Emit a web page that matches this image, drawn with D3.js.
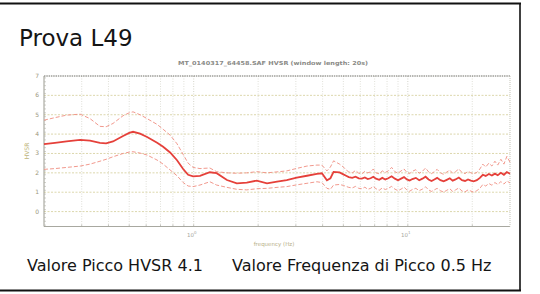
<!DOCTYPE html>
<html>
<head>
<meta charset="utf-8">
<script src="https://cdn.jsdelivr.net/npm/d3@7"></script>
<style>
  body { margin: 0; background: #fff; }
  text { font-family: "DejaVu Sans", Verdana, sans-serif; }
</style>
</head>
<body>
<div id="chart"></div>
<script>

// frequency samples (Hz)
var freqs = [0.2, 0.225, 0.255, 0.295, 0.328, 0.365, 0.39, 0.42, 0.468, 0.5, 0.521, 0.562, 0.606, 0.675, 0.72, 0.776,
    0.836, 0.893, 0.942, 0.994, 1.07, 1.19, 1.28, 1.43, 1.59, 1.77, 1.97, 2.2, 2.45, 2.72, 3.03, 3.38, 3.76, 3.97, 4.19, 4.35, 4.5,
    4.8, 5.0, 5.15, 5.3, 5.5, 5.7, 5.9, 6.1, 6.3, 6.5, 6.7, 6.9, 7.1, 7.35, 7.6, 7.85, 8.1, 8.4, 8.7, 9.0, 9.3, 9.6, 9.9,
    10.2, 10.5, 10.9, 11.3, 11.7, 12.1, 12.5, 12.9, 13.3, 13.7, 14.2, 14.7, 15.2, 15.7, 16.2, 16.7, 17.3, 17.9, 18.5, 19.1,
    19.7, 20.3, 21.0, 21.7, 22.4, 23.1, 23.9, 24.7, 25.5, 26.3, 27.2, 28.1, 29.0, 30.0]

// mean HVSR curve
var hvsrMean = [3.48, 3.55, 3.63, 3.70, 3.66, 3.55, 3.52, 3.62, 3.90, 4.06, 4.12, 4.02, 3.85, 3.55, 3.35, 3.05,
    2.65, 2.2, 1.9, 1.82, 1.84, 2.03, 1.98, 1.63, 1.46, 1.49, 1.6, 1.46, 1.55, 1.63, 1.75, 1.85, 1.95, 1.98, 1.62, 1.72, 2.05,
    2.02, 1.92, 1.85, 1.78, 1.74, 1.8, 1.72, 1.70, 1.76, 1.68, 1.72, 1.8, 1.7, 1.64, 1.74, 1.66, 1.72, 1.82, 1.7, 1.62, 1.7, 1.78, 1.66,
    1.6, 1.68, 1.74, 1.62, 1.7, 1.8, 1.66, 1.58, 1.66, 1.74, 1.62, 1.56, 1.64, 1.72, 1.6, 1.66, 1.76, 1.62, 1.58, 1.66,
    1.6, 1.56, 1.62, 1.74, 1.9, 1.84, 1.94, 1.86, 1.96, 1.88, 2.0, 1.9, 2.04, 1.95]

// mean + std
var hvsrUpper = [4.72, 4.85, 4.98, 5.03, 4.80, 4.40, 4.38, 4.55, 4.95, 5.10, 5.15, 5.00, 4.80, 4.50, 4.25, 3.95,
    3.50, 2.95, 2.50, 2.28, 2.22, 2.25, 2.06, 2.0, 1.98, 2.0, 2.06, 2.0, 2.05, 2.1, 2.23, 2.35, 2.4, 2.4, 2.1, 2.3, 2.62,
    2.45, 2.3, 2.15, 2.05, 2.0, 2.12, 1.98, 1.95, 2.08, 2.0, 2.05, 2.2, 2.0, 1.95, 2.1, 2.02, 2.1, 2.28, 2.06, 1.98, 2.1, 2.2, 2.02,
    1.96, 2.08, 2.16, 1.98, 2.08, 2.25, 2.05, 1.96, 2.06, 2.18, 2.0, 1.92, 2.04, 2.14, 1.98, 2.06, 2.2, 2.02, 1.96, 2.08,
    2.0, 1.95, 2.02, 2.2, 2.45, 2.3, 2.5, 2.35, 2.6, 2.4, 2.7, 2.45, 2.85, 2.55]

// mean - std
var hvsrLower = [2.18, 2.22, 2.28, 2.35, 2.45, 2.6, 2.7, 2.83, 3.0, 3.07, 3.09, 3.02, 2.92, 2.66, 2.45, 2.15,
    1.85, 1.5, 1.32, 1.29, 1.37, 1.54, 1.37, 1.25, 1.15, 1.12, 1.18, 1.2, 1.25, 1.29, 1.38, 1.46, 1.54, 1.5, 1.2, 1.15, 1.37,
    1.4, 1.35, 1.3, 1.25, 1.22, 1.3, 1.2, 1.18, 1.26, 1.15, 1.2, 1.3, 1.18, 1.1, 1.22, 1.14, 1.2, 1.3, 1.16, 1.08, 1.16, 1.26, 1.12,
    1.05, 1.14, 1.2, 1.08, 1.16, 1.28, 1.12, 1.04, 1.12, 1.2, 1.08, 1.0, 1.1, 1.18, 1.04, 1.12, 1.22, 1.06, 1.02, 1.12,
    1.06, 1.0, 1.08, 1.2, 1.4, 1.32, 1.45, 1.36, 1.5, 1.4, 1.55, 1.42, 1.58, 1.48]

var yTicks = [0, 1, 2, 3, 4, 5, 6, 7]
var xMajor = [1, 10]
var xGrid = [0.3, 0.4, 0.5, 0.6, 0.7, 0.8, 0.9, 1, 2, 3, 4, 5, 6, 7, 8, 9, 10, 20]

var chartTitle = "MT_0140317_64458.SAF   HVSR (window length: 20s)"
var boxTitle = "Prova L49"
var peakText = "Valore Picco HVSR 4.1"
var freqText = "Valore Frequenza di Picco 0.5 Hz"

var width = 540
var height = 294
var plot = {left: 44, right: 510, top: 76, bottom: 226.5}

var svg = d3.select("#chart")
    .append("svg")
    .attr("width", width)
    .attr("height", height)

// outer frame of the box
svg.append("line").attr("x1", 0).attr("x2", 521).attr("y1", 3.5).attr("y2", 3.5)
    .attr("stroke", "#111").attr("stroke-width", 2)
svg.append("line").attr("x1", 520).attr("x2", 520).attr("y1", 3).attr("y2", 291)
    .attr("stroke", "#111").attr("stroke-width", 1.6)
svg.append("line").attr("x1", 0).attr("x2", 521).attr("y1", 290.5).attr("y2", 290.5)
    .attr("stroke", "#111").attr("stroke-width", 2.2)

svg.append("text")
    .attr("x", 19).attr("y", 46)
    .style("font-size", "23px")
    .attr("fill", "#151515")
    .text(boxTitle)

var x = d3.scaleLog().domain([0.2, 30]).range([plot.left, plot.right])
var y = d3.scaleLinear().domain([-0.77, 7]).range([plot.bottom, plot.top])

var g = svg.append("g")

// grid
g.selectAll(".hgrid")
    .data(yTicks.slice(0, 7))
    .enter().append("line")
    .attr("x1", plot.left).attr("x2", plot.right)
    .attr("y1", d => y(d)).attr("y2", d => y(d))
    .attr("stroke", "#d8d2a4")
    .attr("stroke-width", 0.9)
    .attr("stroke-dasharray", "2,1.5")

g.selectAll(".vgrid")
    .data(xGrid)
    .enter().append("line")
    .attr("x1", d => x(d)).attr("x2", d => x(d))
    .attr("y1", plot.top).attr("y2", plot.bottom)
    .attr("stroke", d => xMajor.indexOf(d) >= 0 ? "#cfcfc4" : "#dcdcd4")
    .attr("stroke-width", 0.9)
    .attr("stroke-dasharray", "1,1.5")

// axes box
g.append("line").attr("x1", plot.left).attr("x2", plot.right).attr("y1", plot.top).attr("y2", plot.top)
    .attr("stroke", "#6e6e66").attr("stroke-width", 1).attr("stroke-dasharray", "1.5,0.8")
g.append("line").attr("x1", plot.left).attr("x2", plot.right).attr("y1", plot.bottom).attr("y2", plot.bottom)
    .attr("stroke", "#a8a8a0").attr("stroke-width", 1)
g.append("line").attr("x1", plot.left).attr("x2", plot.left).attr("y1", plot.top).attr("y2", plot.bottom)
    .attr("stroke", "#9a9a90").attr("stroke-width", 1)
g.append("line").attr("x1", plot.right).attr("x2", plot.right).attr("y1", plot.top).attr("y2", plot.bottom)
    .attr("stroke", "#c4c4b8").attr("stroke-width", 1).attr("stroke-dasharray", "1,1")

// minor ticks along the left axis
g.selectAll(".yminor")
    .data(d3.range(-7, 70, 2).map(d => d / 10))
    .enter().append("line")
    .attr("x1", plot.left).attr("x2", plot.left + 2)
    .attr("y1", d => y(d)).attr("y2", d => y(d))
    .attr("stroke", "#b0b0a6").attr("stroke-width", 0.6)

// bottom ticks
g.selectAll(".xtick")
    .data(xGrid)
    .enter().append("line")
    .attr("x1", d => x(d)).attr("x2", d => x(d))
    .attr("y1", plot.bottom).attr("y2", plot.bottom - 2)
    .attr("stroke", "#a8a8a0").attr("stroke-width", 0.7)

// tick labels
g.selectAll(".ylab")
    .data(yTicks)
    .enter().append("text")
    .attr("x", plot.left - 5)
    .attr("y", d => y(d) + 2)
    .attr("text-anchor", "end")
    .style("font-size", "6px")
    .attr("fill", "#9c967c")
    .text(d => d)

var xl = g.selectAll(".xlab")
    .data(xMajor)
    .enter().append("text")
    .attr("x", d => x(d) - 2)
    .attr("y", plot.bottom + 10)
    .attr("text-anchor", "middle")
    .style("font-size", "5.5px")
    .attr("fill", "#a8a8a0")
xl.append("tspan").text("10")
xl.append("tspan").attr("dy", -2.5).style("font-size", "4px").text(d => Math.log10(d))

// chart title and axis titles
svg.append("text")
    .attr("x", 178).attr("y", 65)
    .attr("textLength", 190)
    .attr("lengthAdjust", "spacingAndGlyphs")
    .style("font-size", "5.5px")
    .style("font-weight", "bold")
    .attr("fill", "#8a8a86")
    .text(chartTitle)

svg.append("text")
    .attr("transform", "translate(29,151) rotate(-90)")
    .attr("text-anchor", "middle")
    .style("font-size", "6px")
    .attr("fill", "#bdb47a")
    .text("HVSR")

svg.append("text")
    .attr("x", 274).attr("y", 246)
    .attr("text-anchor", "middle")
    .style("font-size", "5.5px")
    .attr("fill", "#b8b088")
    .text("frequency (Hz)")

// curves
var pts = function (vals) { return freqs.map((f, i) => [f, vals[i]]) }
var line = d3.line()
    .x(d => x(d[0]))
    .y(d => y(d[1]))

g.append("path")
    .datum(pts(hvsrUpper))
    .attr("d", line)
    .attr("fill", "none")
    .attr("stroke", "#ef8d80")
    .attr("stroke-width", 0.9)
    .attr("stroke-dasharray", "4,2")

g.append("path")
    .datum(pts(hvsrLower))
    .attr("d", line)
    .attr("fill", "none")
    .attr("stroke", "#ef8d80")
    .attr("stroke-width", 0.9)
    .attr("stroke-dasharray", "4,2")

g.append("path")
    .datum(pts(hvsrMean))
    .attr("d", line)
    .attr("fill", "none")
    .attr("stroke", "#e5403a")
    .attr("stroke-width", 1.8)

// bottom captions
svg.append("text")
    .attr("x", 27).attr("y", 271)
    .style("font-size", "16px")
    .attr("fill", "#151515")
    .text(peakText)

svg.append("text")
    .attr("x", 232).attr("y", 271)
    .style("font-size", "16px")
    .attr("fill", "#151515")
    .text(freqText)

</script>
</body>
</html>
